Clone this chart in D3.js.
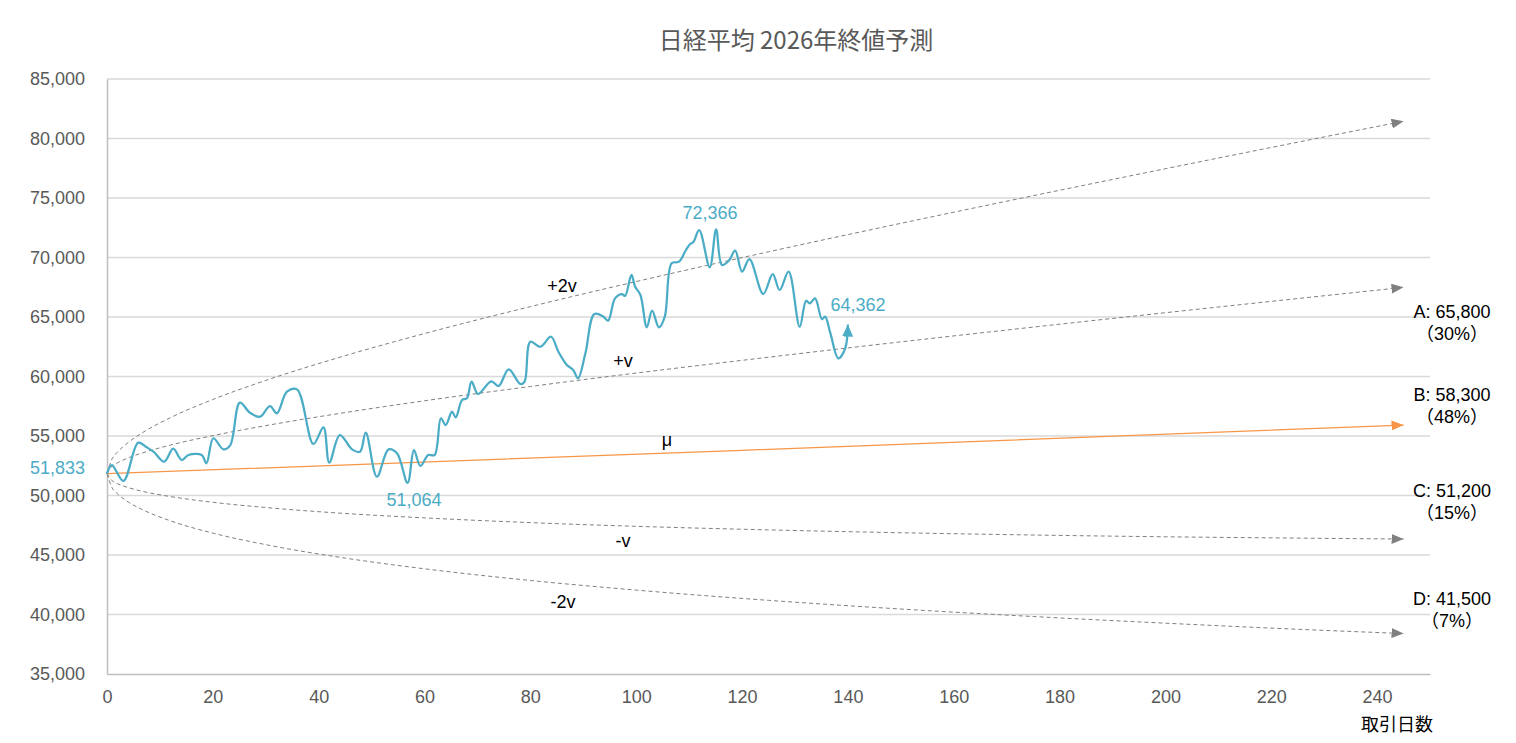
<!DOCTYPE html>
<html>
<head>
<meta charset="utf-8">
<script src="https://cdn.jsdelivr.net/npm/d3@7"></script>
<style>
  body { margin: 0; background: white; }
  text { font-family: "Liberation Sans", Arial, "Noto Sans CJK JP", sans-serif; }
</style>
</head>
<body>
<svg width="1516" height="743"></svg>
<script>
// observed Nikkei closes, trading day vs. value
var days = [
  0, 0.9, 3.1, 5.9, 7.5, 8.8, 10.8, 12.5, 14.1, 15.4, 17.9, 18.8, 20.1, 22.0, 23.3,
  25.1, 27.0, 28.9, 30.8, 32.1, 34.0, 35.9, 39.0, 40.9, 42.0, 44.0, 46.3, 47.8, 48.9,
  51.0, 53.2, 54.8, 56.8, 58.0, 59.2, 60.7, 61.9, 63.1, 64.0, 65.2, 65.9, 67.1, 68.0,
  68.9, 70.1, 72.6, 74.0, 75.9, 78.1, 78.9, 80.0, 81.9, 83.9, 85.3, 86.9, 88.1, 89.0,
  90.4, 92.1, 93.8, 94.7, 96.0, 97.3, 97.9, 99.1, 99.8, 100.8, 102.0, 103.0, 104.3,
  105.4, 106.7, 108.1, 109.4, 110.2, 110.8, 111.9, 113.9, 115.1, 116.2, 117.5, 118.7,
  120.0, 121.4, 124.0, 125.8, 127.1, 128.8, 130.9, 132.1, 132.8, 133.8, 135.1, 135.7,
  136.7, 138.2, 139.5, 140.0
]
var closes = [
  51833, 52560, 51220, 54440, 54050, 53680, 52840, 53930, 52980, 53400, 53400, 52710, 54810, 53880, 54240,
  57800, 56960, 56620, 57520, 56910, 58720, 58920, 54330, 55730, 52760, 55080, 53880, 53680, 55280,
  51580, 53880, 53550, 51064, 53820, 52480, 53400, 53400, 56490, 55920, 57040, 56570, 58030, 58170,
  59560, 58530, 59600, 59200, 60600, 59370, 59560, 62920, 62500, 63340, 62080, 60970, 60550, 59850,
  61950, 65250, 65030, 64690, 66570, 66930, 66770, 68530, 67550, 66850, 64130, 65530, 64130,
  65030, 69510, 69650, 70630, 71130, 71300, 72300, 69180, 72366, 69370, 69730, 70570,
  68810, 69870, 66930, 68610, 67270, 68810, 64180, 66370, 66150, 66570, 64810, 65030,
  63630, 61530, 62370, 64362
]

// forecast bands
var bandDays = [0, 1, 2, 4, 7, 12, 20, 30, 45, 60, 80, 100, 125, 150, 175, 200, 225, 245]
var plus2v = [51833, 53110, 53660, 54450, 55360, 56540, 58070, 59670, 61750, 63610, 65870, 67980, 70480, 72870, 75190, 77460, 79690, 81450]
var plus1v = [51833, 52480, 52750, 53160, 53620, 54240, 55030, 55870, 56970, 57960, 59160, 60290, 61620, 62910, 64150, 65360, 66550, 67490]
var minus1v = [51833, 51230, 50990, 50670, 50320, 49910, 49430, 48990, 48490, 48120, 47720, 47410, 47110, 46870, 46680, 46530, 46420, 46340]
var minus2v = [51833, 50620, 50130, 49460, 48750, 47870, 46840, 45870, 44740, 43840, 42860, 42050, 41190, 40460, 39830, 39270, 38760, 38400]
var muDays = [0, 120, 245]
var muValues = [51833, 53800, 55920]

var yTicks = [35000, 40000, 45000, 50000, 55000, 60000, 65000, 70000, 75000, 80000, 85000]
var xTicks = [0, 20, 40, 60, 80, 100, 120, 140, 160, 180, 200, 220, 240]

var scenarioNames = ["A: 65,800", "B: 58,300", "C: 51,200", "D: 41,500"]
var scenarioProbs = ["（30%）", "（48%）", "（15%）", "（7%）"]
var bandNames = ["+2v", "+v", "μ", "-v", "-2v"]
var callouts = ["72,366", "64,362", "51,064"]

var
  svg = d3.select("svg"),
  teal = "#4BACC6",
  orange = "#F79646",
  gray = "#808080",
  plotLeft = 107, plotRight = 1430, plotTop = 79, plotBottom = 674

var
  x = d3.scaleLinear().domain([0, 250]).range([plotLeft, plotRight]),
  y = d3.scaleLinear().domain([35000, 85000]).range([plotBottom, plotTop])

svg.append("rect").attr("width", 1516).attr("height", 743).attr("fill", "white")

// arrowheads
var defs = svg.append("defs")
function marker(id, color, len, wid) {
  defs.append("marker")
    .attr("id", id)
    .attr("markerUnits", "userSpaceOnUse")
    .attr("viewBox", `0 0 ${len} ${wid}`)
    .attr("markerWidth", len).attr("markerHeight", wid)
    .attr("refX", len).attr("refY", wid / 2)
    .attr("orient", "auto")
    .append("path")
    .attr("d", `M0,0L${len},${wid / 2}L0,${wid}Z`)
    .attr("fill", color)
}
marker("arrow-gray", gray, 12, 10)
marker("arrow-orange", orange, 12, 10)
marker("arrow-teal", teal, 12, 11)

svg.append("g")
  .selectAll("line")
  .data(yTicks.slice(1))
  .join("line")
  .attr("x1", plotLeft).attr("x2", plotRight)
  .attr("y1", d => y(d)).attr("y2", d => y(d))
  .attr("stroke", "#d9d9d9")
  .attr("stroke-width", 1.5)

var yAxis = svg.append("g")
  .attr("transform", `translate(${plotLeft},0)`)
  .call(d3.axisLeft(y).tickValues(yTicks).tickSize(0).tickPadding(22)
    .tickSizeOuter(0).tickFormat(d3.format(",")))
var xAxis = svg.append("g")
  .attr("transform", `translate(0,${plotBottom})`)
  .call(d3.axisBottom(x).tickValues(xTicks).tickSize(0).tickPadding(16).tickSizeOuter(0))

;[yAxis, xAxis].forEach(a => {
  a.select(".domain").attr("stroke", "#bfbfbf").attr("stroke-width", 1.5)
  a.selectAll("text")
    .attr("fill", "#595959")
    .style("font-size", "18px")
    .style("font-family", "\"Liberation Sans\", Arial, sans-serif")
})

var bandLine = d3.line()
  .x((d, i) => x(bandDays[i]))
  .y(d => y(d))
  .curve(d3.curveMonotoneX)

;[plus2v, plus1v, minus1v, minus2v].forEach(band => {
  svg.append("path")
    .attr("d", bandLine(band))
    .attr("fill", "none")
    .attr("stroke", gray)
    .attr("stroke-width", 1)
    .attr("stroke-dasharray", "4,3")
    .attr("marker-end", "url(#arrow-gray)")
})

svg.append("path")
  .attr("d", d3.line().x((d, i) => x(muDays[i])).y(d => y(d))(muValues))
  .attr("fill", "none")
  .attr("stroke", orange)
  .attr("stroke-width", 1.25)
  .attr("marker-end", "url(#arrow-orange)")

svg.append("path")
  .attr("d", d3.line()
    .x((d, i) => x(days[i]))
    .y(d => y(d))
    .curve(d3.curveCatmullRom.alpha(0.5))(closes))
  .attr("fill", "none")
  .attr("stroke", teal)
  .attr("stroke-width", 2.25)
  .attr("stroke-linejoin", "round")
  .attr("marker-end", "url(#arrow-teal)")

// band labels
var bandLabelPos = [[562, 292], [623, 367], [667, 446], [623, 547], [563, 608]]
svg.append("g")
  .selectAll("text")
  .data(bandNames)
  .join("text")
  .attr("x", (d, i) => bandLabelPos[i][0])
  .attr("y", (d, i) => bandLabelPos[i][1])
  .attr("text-anchor", "middle")
  .style("font-size", "18px")
  .attr("fill", "#000")
  .text(d => d)

// value callouts
var calloutPos = [[710, 219], [858, 311], [414, 506]]
svg.append("g")
  .selectAll("text")
  .data(callouts)
  .join("text")
  .attr("x", (d, i) => calloutPos[i][0])
  .attr("y", (d, i) => calloutPos[i][1])
  .attr("text-anchor", "middle")
  .style("font-size", "18px")
  .attr("fill", teal)
  .text(d => d)

svg.append("text")
  .attr("x", plotLeft - 22)
  .attr("y", y(closes[0]))
  .attr("text-anchor", "end")
  .style("font-size", "18px")
  .attr("fill", teal)
  .text(d3.format(",")(closes[0]))

// scenario labels
var scenarioY = [318, 401, 497, 605]
var scenarios = svg.append("g")
scenarios.selectAll(".name")
  .data(scenarioNames)
  .join("text")
  .attr("class", "name")
  .attr("x", 1452)
  .attr("y", (d, i) => scenarioY[i])
  .attr("text-anchor", "middle")
  .style("font-size", "18px")
  .text(d => d)
scenarios.selectAll(".prob")
  .data(scenarioProbs)
  .join("text")
  .attr("class", "prob")
  .attr("x", 1452)
  .attr("y", (d, i) => scenarioY[i] + 22)
  .attr("text-anchor", "middle")
  .style("font-size", "18px")
  .text(d => d)

svg.append("text")
  .attr("x", 796)
  .attr("y", 49)
  .attr("text-anchor", "middle")
  .style("font-family", "\"Noto Sans CJK JP\", sans-serif")
  .style("font-size", "24px")
  .attr("fill", "#595959")
  .text("日経平均 2026年終値予測")

svg.append("text")
  .attr("x", 1397)
  .attr("y", 731)
  .attr("text-anchor", "middle")
  .style("font-family", "\"Noto Sans CJK JP\", sans-serif")
  .style("font-size", "18px")
  .attr("fill", "#000")
  .text("取引日数")
</script>
</body>
</html>
